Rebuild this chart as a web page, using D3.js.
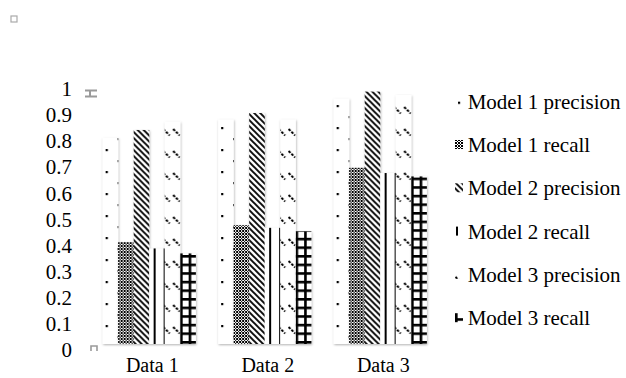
<!DOCTYPE html>
<meta charset="utf-8">
<html>
<head>
<style>
  body { margin: 0; background: #fff; }
</style>
<script src="https://d3js.org/d3.v7.min.js"></script>
</head>
<body>
<svg width="626" height="378"></svg>
<script>

// values
var categories = ["Data 1", "Data 2", "Data 3"];
var seriesNames = ["Model 1 precision", "Model 1 recall", "Model 2 precision",
                   "Model 2 recall", "Model 3 precision", "Model 3 recall"];
var model1Precision = [0.79, 0.86, 0.94];
var model1Recall    = [0.39, 0.455, 0.675];
var model2Precision = [0.82, 0.885, 0.967];
var model2Recall    = [0.366, 0.445, 0.655];
var model3Precision = [0.852, 0.86, 0.954];
var model3Recall    = [0.347, 0.432, 0.642];
var yTicks = [0, 0.1, 0.2, 0.3, 0.4, 0.5, 0.6, 0.7, 0.8, 0.9, 1];

var seriesValues = [model1Precision, model1Recall, model2Precision,
                    model2Recall, model3Precision, model3Recall];
var patternIds = ["p-dots", "p-check", "p-diag", "p-vert", "p-dash", "p-grid"];
var serif = "Liberation Serif";

var data = categories.map(function(c, i) {
  return { cat: c, values: seriesNames.map(function(s, j) {
    return { key: s, value: seriesValues[j][i], pat: patternIds[j] };
  }) };
});

var svg = d3.select("svg"),
    margin = {top: 83, left: 91.5, bottom: 33, right: 188},
    width = +svg.attr("width") - margin.left - margin.right,
    height = +svg.attr("height") - margin.top - margin.bottom;

var defs = svg.append("defs");

var shadow = defs.append("filter").attr("id", "shadow")
    .attr("x", "-30%").attr("y", "-5%").attr("width", "160%").attr("height", "110%");
shadow.append("feDropShadow")
    .attr("dx", 0.6).attr("dy", 1).attr("stdDeviation", 1.2)
    .attr("flood-color", "#000").attr("flood-opacity", 0.3);

function pattern(id, w, h) {
  var p = defs.append("pattern").attr("id", id)
      .attr("patternUnits", "userSpaceOnUse")
      .attr("width", w).attr("height", h);
  p.append("rect").attr("width", w).attr("height", h).attr("fill", "#fff");
  return p;
}

// sparse dots
var pd = pattern("p-dots", 24, 22);
pd.append("rect").attr("x", 3).attr("y", 0).attr("width", 2.2).attr("height", 2.2).attr("fill", "#000");
pd.append("rect").attr("x", 15).attr("y", 11).attr("width", 2.2).attr("height", 2.2).attr("fill", "#000");

// fine checker
var pc = pattern("p-check", 3, 3).attr("shape-rendering", "crispEdges");
pc.append("rect").attr("width", 1.5).attr("height", 1.5).attr("fill", "#000");
pc.append("rect").attr("x", 1.5).attr("y", 1.5).attr("width", 1.5).attr("height", 1.5).attr("fill", "#000");

// wide downward diagonal
var pg = pattern("p-diag", 6, 6);
pg.append("path").attr("d", "M-1,-1L7,7M-1,5L1,7M5,-1L7,1")
    .attr("stroke", "#000").attr("stroke-width", 1.9);

// vertical lines
var pv = pattern("p-vert", 10, 10);
pv.append("rect").attr("x", 1).attr("width", 2).attr("height", 10).attr("fill", "#000");

// dashed downward diagonal
var pa = pattern("p-dash", 10, 22);
pa.append("path").attr("d", "M0.5,2L7,8.5")
    .attr("stroke", "#000").attr("stroke-width", 2).attr("stroke-dasharray", "2.6,1.4");

// plaid grid
var pr = pattern("p-grid", 8.6, 8.6);
pr.append("rect").attr("x", 0).attr("width", 2.6).attr("height", 8.6).attr("fill", "#000");
pr.append("rect").attr("y", 0).attr("width", 8.6).attr("height", 2.6).attr("fill", "#000");

var g = svg.append("g").attr("transform", "translate(" + margin.left + "," + margin.top + ")");

var x0 = d3.scaleBand().domain(categories).range([0, width])
    .paddingInner(0.193).paddingOuter(0.0965);
var x1 = d3.scaleBand().domain(seriesNames).range([0, x0.bandwidth()]);
var y = d3.scaleLinear().domain([0, 1]).range([height - 1, 0]);

// y axis (labels only)
var yAxis = g.append("g")
    .call(d3.axisLeft(y).tickValues(yTicks).tickSize(0).tickPadding(20)
      .tickFormat(function(d) { return d === 0 || d === 1 ? d : d3.format(".1f")(d); }));
yAxis.attr("font-family", serif).attr("font-size", 21);
yAxis.select(".domain").remove();
yAxis.selectAll("text").attr("dy", "0.6em").attr("x", -19.5);

// x axis (labels only)
var xAxis = g.append("g").attr("transform", "translate(0," + height + ")")
    .call(d3.axisBottom(x0).tickSize(0).tickPadding(13));
xAxis.attr("font-family", serif).attr("font-size", 20);
xAxis.select(".domain").remove();
xAxis.selectAll("text").attr("dx", 3);

// faint axis leftovers
g.append("path").attr("d", "M-6.5,7.5h12M-6.5,13.5h12M-1.5,7.5v6")
    .attr("stroke", "#9a9a9a").attr("stroke-width", 2).attr("fill", "none");
g.append("path").attr("d", "M-0.5," + (height + 6) + "v-5h6v5")
    .attr("stroke", "#9a9a9a").attr("stroke-width", 1.6).attr("fill", "none");
svg.append("rect").attr("x", 11).attr("y", 16).attr("width", 6).attr("height", 6)
    .attr("fill", "none").attr("stroke", "#aaa").attr("stroke-width", 1.2);

// bars
var groups = g.selectAll(".grp").data(data).enter().append("g")
    .attr("class", "grp")
    .attr("transform", function(d) { return "translate(" + x0(d.cat) + ",0)"; });

groups.selectAll("rect").data(function(d) { return d.values; }).enter().append("rect")
    .attr("x", function(d) { return x1(d.key); })
    .attr("y", function(d) { return y(d.value); })
    .attr("width", x1.bandwidth())
    .attr("height", function(d) { return y(0) - y(d.value); })
    .attr("fill", function(d) { return "url(#" + d.pat + ")"; })
    .attr("filter", "url(#shadow)");

// legend
var legend = svg.append("g").attr("transform", "translate(455,0)")
    .attr("font-family", serif).attr("font-size", 21);
var rows = legend.selectAll(".row").data(seriesNames).enter().append("g")
    .attr("class", "row")
    .attr("transform", function(d, i) { return "translate(0," + (101.7 + i * 43.3) + ")"; });
rows.append("rect").attr("x", 0).attr("y", -5).attr("width", 8).attr("height", 9)
    .attr("fill", function(d, i) { return "url(#" + patternIds[i] + ")"; });
rows.append("text").attr("x", 12.7).attr("dy", "0.33em")
    .text(function(d) { return d; });

</script>
</body>
</html>
